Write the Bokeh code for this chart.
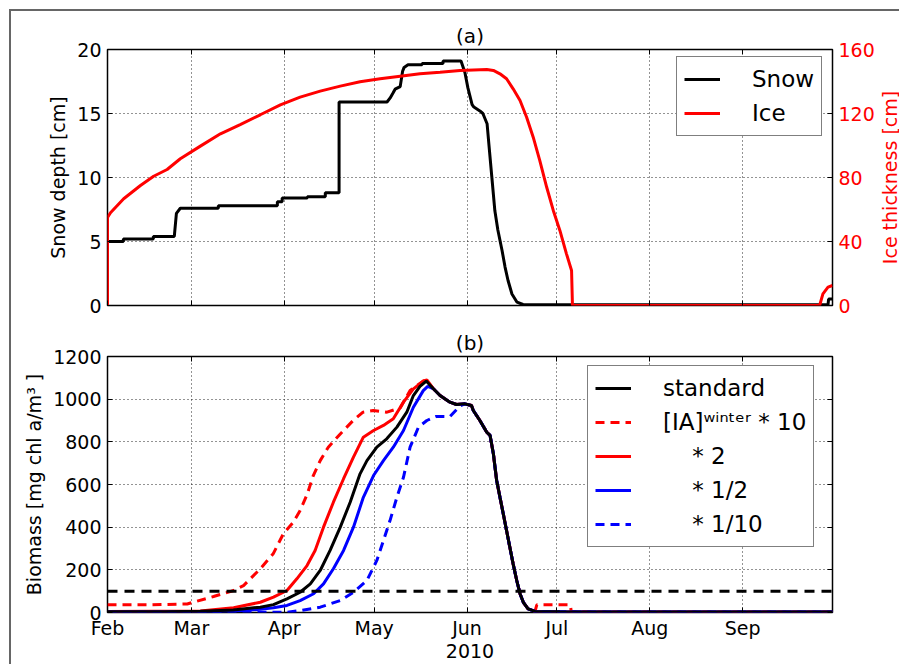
import math
from bokeh.plotting import figure
from bokeh.models import (Range1d, LinearAxis, FixedTicker, Legend, LegendItem, Span, Label,
                          CustomJSTickFormatter)
from bokeh.layouts import column
from bokeh.embed import file_html
from bokeh.resources import INLINE

FONT = "DejaVu Sans"

# ---------------- data ----------------
# x is day of year 2010 (Jan 1 = 0)
month_days = [31, 59, 90, 120, 151, 181, 212, 243]
month_labels = ["Feb", "Mar", "Apr", "May", "Jun", "Jul", "Aug", "Sep"]
x_start, x_end = 31, 273
year_label = "2010"

snow_ticks = [0, 5, 10, 15, 20]
ice_ticks = [0, 40, 80, 120, 160]
bio_ticks = [0, 200, 400, 600, 800, 1000, 1200]

# (a) snow depth [cm]
snow_day = [31, 31, 36.3, 36.3, 46.3, 46.3, 53.3, 54.0, 55.3, 68, 68, 87.7, 87.7, 89.3, 89.3,
            97.7, 97.7, 103.7, 103.7, 108.3, 108.3, 124.3, 125.3, 126.3, 127, 128.7, 129.5,
            130, 131.3, 136, 136, 143, 143, 149, 150.3, 151.3, 152.7, 153.3, 155.3, 156.3,
            157.7, 158.3, 159.3, 160.3, 161.3, 162.7, 163.7, 164.7, 166, 167.7, 169.7,
            271.5, 271.7, 273]
snow_cm = [0, 5.0, 5.0, 5.2, 5.2, 5.4, 5.4, 7.2, 7.6, 7.6, 7.8, 7.8, 8.1, 8.1, 8.4,
           8.4, 8.5, 8.5, 8.8, 8.8, 15.9, 15.9, 16.2, 16.6, 16.9, 17.1, 18.3,
           18.6, 18.8, 18.8, 18.9, 18.9, 19.1, 19.1, 18.2, 17.0, 15.7, 15.5, 15.2, 15.0,
           14.2, 12.6, 10.0, 7.4, 5.9, 4.3, 3.0, 1.95, 0.9, 0.26, 0.08,
           0.05, 0.5, 0.5]

# (a) ice thickness [cm]
ice_day = [31, 31, 32, 36.4, 42, 46.4, 50.9, 55.3, 62, 68.7, 75.3, 82, 88.7, 95.3, 102,
           108.7, 115.3, 122, 128.7, 135.3, 142, 148.7, 157.6, 159.8, 162, 164.2, 166.4,
           168.7, 170.9, 173.1, 175.3, 177.6, 179.8, 182, 184.2, 185.9, 186.2, 268.7,
           269.8, 271.5, 273]
ice_cm = [0, 55, 58, 66.7, 75, 80.8, 85, 91.7, 99.6, 107.3, 113.1, 119.2, 125.4, 130.2, 134,
          137.1, 139.8, 141.7, 143.3, 144.8, 145.8, 146.9, 147.5, 146.9, 144.8, 141.7, 135.4,
          128.1, 117.7, 105.2, 90.6, 73.9, 59.4, 46.9, 32.3, 21.9, 0, 0,
          7.3, 11.5, 12.5]

# (b) biomass [mg chl a / m3]
std_day = [31, 50, 62, 73, 82, 86.4, 90.9, 95.3, 98.7, 102, 105.3, 108.7, 112, 115.3, 117.6,
           120.9, 124.2, 127.6, 130.9, 133.1, 135.3, 137.4]
std_val = [3, 4, 6, 12, 25, 37, 64, 95, 134, 197, 291, 400, 517, 650, 712,
           775, 814, 869, 939, 1017, 1060, 1085]

ia10_day = [31, 45, 57.6, 66.4, 73.1, 76.4, 82, 86.3, 89.7, 93, 95.3, 97.7, 99.7, 102, 104.7,
            108.7, 113, 116.3, 119.7, 124.3, 128.7, 132, 136.3, 137.3]
ia10_val = [36, 36, 40, 75, 103, 126, 205, 275, 369, 423, 478, 556, 642, 712, 775,
            837, 900, 939, 947, 939, 959, 1041, 1084, 1090]

ia2_day = [31, 62, 73.1, 82, 86.4, 90.9, 94.2, 97.6, 100.3, 103.1, 106.4, 109.8, 113.1, 116.4,
           119.8, 123.1, 126.4, 129.8, 133.1, 136.4, 137.6]
ia2_val = [5, 7, 22, 48, 72, 103, 158, 220, 291, 400, 517, 627, 728, 822,
           853, 877, 908, 986, 1048, 1084, 1090]

ia05_day = [31, 62, 75.3, 82, 86.4, 90.9, 95.3, 99.8, 103.1, 106.4, 109.8, 113.1, 116.4, 119.8,
            123.1, 126.4, 129.8, 133.1, 136.4, 137.9]
ia05_val = [2, 3, 8, 15, 22, 33, 56, 88, 134, 205, 291, 400, 540, 642,
            712, 775, 853, 962, 1040, 1060]

ia01_day = [31, 90.9, 95.3, 102, 108.7, 113.1, 117.6, 120.9, 123.1, 125.3, 127.6, 129.8, 132,
            134.8, 137.6, 140.7, 145.3, 147.8, 148.9]
ia01_val = [1, 1, 9, 25, 56, 95, 150, 244, 337, 431, 540, 634, 775,
            869, 900, 919, 918, 955, 970]

# common decline once the ice melts (all runs coincide)
tail_day = [139.7, 142, 145.3, 147.5, 150.3, 152.5, 153.1, 155.3, 157.6, 158.7, 159.8, 160.9,
            162, 163.1, 164.2, 165.3, 166.4, 167.6, 168.7, 169.8, 171.4, 173.7]
tail_val = [1050, 1017, 986, 975, 978, 970, 947, 900, 845, 830, 744, 619,
            540, 463, 384, 306, 228, 150, 88, 48, 17, 5]
end_day = [182, 273]
end_val = [3, 2]
ia10_end_day = [174.3, 185.5, 185.8, 273]
ia10_end_val = [36, 36, 3, 2]

threshold = 100

labels_a = ["Snow", "Ice"]
labels_b = ["standard", "[IA]\u02b7\u2071\u207f\u1d57\u1d49\u02b3 * 10",
            "\u00a0\u00a0\u00a0\u00a0* 2", "\u00a0\u00a0\u00a0\u00a0* 1/2",
            "\u00a0\u00a0\u00a0\u00a0* 1/10"]

# ---------------- layout constants ----------------
FRAME_W, FRAME_H = 726, 256
LEFT, RIGHT = 96, 66
FIG_W = LEFT + FRAME_W + RIGHT


def style_axis(ax, ticker, labels=True, size="19px"):
    ax.ticker = ticker
    ax.axis_line_color = None
    ax.major_tick_in = 5
    ax.major_tick_out = 0
    ax.major_tick_line_color = "black"
    ax.major_tick_line_width = 1
    ax.minor_tick_line_color = None
    ax.major_label_text_font = FONT
    ax.major_label_text_font_size = size
    ax.major_label_text_color = "black"
    ax.major_label_standoff = 6
    ax.axis_label_text_font = FONT
    ax.axis_label_text_font_size = "19px"
    ax.axis_label_text_font_style = "normal"
    ax.axis_label_text_color = "black"
    if not labels:
        ax.formatter = CustomJSTickFormatter(code="return ''")
        ax.major_label_text_font_size = "0px"
        ax.major_label_standoff = 0


def style_fig(p, title):
    p.outline_line_color = "black"
    p.outline_line_width = 1.5
    p.background_fill_color = "white"
    p.border_fill_color = "white"
    for g in (p.xgrid[0], p.ygrid[0]):
        g.grid_line_color = "black"
        g.grid_line_dash = "1 3"
        g.grid_line_width = 1
        g.grid_line_alpha = 0.85
    p.title.text = title
    p.title.text_font = FONT
    p.title.text_font_size = "20px"
    p.title.text_font_style = "normal"
    p.title.text_color = "black"
    p.title.align = "center"
    p.title.standoff = 4


def style_legend(lg):
    lg.label_text_font = FONT
    lg.label_text_font_size = "23px"
    lg.label_text_color = "black"
    lg.label_height = 30
    lg.glyph_height = 30
    lg.glyph_width = 36
    lg.label_standoff = 32
    lg.spacing = 4
    lg.padding = 7
    lg.margin = 0
    lg.border_line_color = "black"
    lg.border_line_width = 1.5
    lg.background_fill_color = "white"
    lg.background_fill_alpha = 1


month_ticker = FixedTicker(ticks=month_days)

# ---------------- panel (a) ----------------
p1 = figure(width=FIG_W, height=38 + FRAME_H + 14, x_range=Range1d(x_start, x_end),
            y_range=Range1d(0, 20), output_backend="svg", toolbar_location=None,
            min_border_left=LEFT, min_border_right=RIGHT, min_border_top=38,
            min_border_bottom=14)
p1.extra_y_ranges = {"ice": Range1d(0, 160)}
style_fig(p1, "(a)")
p1.xgrid[0].ticker = month_ticker
p1.ygrid[0].ticker = FixedTicker(ticks=snow_ticks)
style_axis(p1.xaxis[0], month_ticker, labels=False)
style_axis(p1.yaxis[0], FixedTicker(ticks=snow_ticks))
p1.yaxis[0].axis_label = "Snow depth [cm]"
top1 = LinearAxis()
style_axis(top1, month_ticker, labels=False)
p1.add_layout(top1, "above")
right1 = LinearAxis(y_range_name="ice")
style_axis(right1, FixedTicker(ticks=ice_ticks))
right1.major_label_text_color = "red"
p1.add_layout(right1, "right")
ice_label = Label(x=12, y=FRAME_H / 2, x_units="screen", y_units="screen",
                  text="Ice thickness [cm]", text_font=FONT, text_font_size="19px",
                  text_color="red", angle=math.pi / 2, text_align="center",
                  text_baseline="middle")
p1.add_layout(ice_label, "right")

r_snow = p1.line(snow_day, snow_cm, line_color="black", line_width=3)
r_ice = p1.line(ice_day, ice_cm, line_color="red", line_width=3, y_range_name="ice")

leg1 = Legend(items=[LegendItem(label=labels_a[0], renderers=[r_snow]),
                     LegendItem(label=labels_a[1], renderers=[r_ice])],
              location=(569, 169))
style_legend(leg1)
p1.add_layout(leg1)

# ---------------- panel (b) ----------------
p2 = figure(width=FIG_W, height=37 + FRAME_H + 52, x_range=p1.x_range, y_range=Range1d(0, 1200),
            output_backend="svg", toolbar_location=None,
            min_border_left=LEFT, min_border_right=RIGHT, min_border_top=37,
            min_border_bottom=52)
style_fig(p2, "(b)")
p2.xgrid[0].ticker = month_ticker
p2.ygrid[0].ticker = FixedTicker(ticks=bio_ticks)
style_axis(p2.xaxis[0], month_ticker)
p2.xaxis[0].major_label_overrides = dict(zip(month_days, month_labels))
p2.xaxis[0].major_label_standoff = 4
p2.xaxis[0].axis_label = year_label
p2.xaxis[0].axis_label_standoff = 2
style_axis(p2.yaxis[0], FixedTicker(ticks=bio_ticks))
p2.yaxis[0].axis_label = "Biomass [mg chl a/m\u00b3 ]"
top2 = LinearAxis()
style_axis(top2, month_ticker, labels=False)
p2.add_layout(top2, "above")
right2 = LinearAxis()
style_axis(right2, FixedTicker(ticks=bio_ticks), labels=False)
p2.add_layout(right2, "right")

r_ia10 = p2.line(ia10_day + tail_day + ia10_end_day, ia10_val + tail_val + ia10_end_val,
                 line_color="red", line_width=3, line_dash="9 6")
r_ia2 = p2.line(ia2_day + tail_day + end_day, ia2_val + tail_val + end_val,
                line_color="red", line_width=3)
r_ia05 = p2.line(ia05_day + tail_day + end_day, ia05_val + tail_val + end_val,
                 line_color="blue", line_width=3)
k = next(i for i, d in enumerate(tail_day) if d > 149)
r_ia01 = p2.line(ia01_day + tail_day[k:] + end_day, ia01_val + tail_val[k:] + end_val,
                 line_color="blue", line_width=3, line_dash="9 6")
r_std = p2.line(std_day + tail_day + end_day, std_val + tail_val + end_val,
                line_color="black", line_width=3)
p2.add_layout(Span(location=threshold, dimension="width", line_color="black",
                   line_width=3, line_dash="10 7"))

leg2 = Legend(items=[LegendItem(label=labels_b[0], renderers=[r_std]),
                     LegendItem(label=labels_b[1], renderers=[r_ia10]),
                     LegendItem(label=labels_b[2], renderers=[r_ia2]),
                     LegendItem(label=labels_b[3], renderers=[r_ia05]),
                     LegendItem(label=labels_b[4], renderers=[r_ia01])],
              location=(480, 65))
style_legend(leg2)
p2.add_layout(leg2)

layout = column(p1, p2, spacing=0,
                styles={"margin-left": "9px", "margin-top": "9px",
                        "border-left": "2px solid #666", "border-top": "2px solid #666"})

open("out.html", "w").write(file_html(layout, INLINE))
